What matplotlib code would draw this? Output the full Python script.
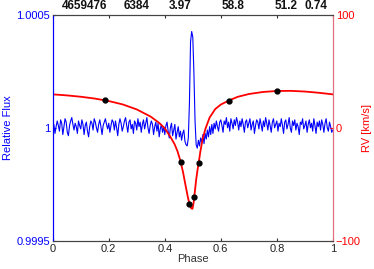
import numpy as np
import matplotlib
matplotlib.use("Agg")
import matplotlib.pyplot as plt

plt.rcParams['font.family'] = ['Liberation Sans', 'DejaVu Sans']

# Relative flux: deviations in ppm, phase grid step 0.004 from 0 to 1
flux_ppm = [
    -10, 15, -25, 5, 30, 10, -15, 35, 20, -30, 5, 40, 25, -20, -35, 10, 30, 45, 15, -10, 20, 5, -25, 30, 10,
    -5, 35, 15, -30, 10, 25, -15, -40, 5, 30, 20, -10, 40, 25, 0, -20, 15, 35, 5, -30, 10, 25, 40, 15, -5,
    20, -20, 10, 35, 25, -10, 30, 0, -35, 15, 40, 20, -15, 5, 30, 45, 10, -20, 25, 35, -5, 15, -25, 30, 20,
    -10, 40, 5, 25, -20, 15, 35, -5, 20, 45, 0, -25, 10, 30, 15, -30, 5, 25, -15, 20, -40, -5, 15, -20, 5,
    -30, 10, 25, -15, -45, 0, 20, -35, -10, 15, -50, -20, 5, -40, -15, -55, -25, -10, -60, -75, -80, -45, 110, 380, 425,
    400, 240, 30, -75, -90, -55, -80, -45, -65, -30, -70, -25, -50, -10, -40, 5, -30, 15, -25, 20, -5, 30, 5, -15, 25,
    35, 10, -20, 30, 15, 45, 0, 25, -15, 40, 20, -5, 35, 10, 45, 25, -10, 30, 5, 40, 15, -20, 25, 35, 0,
    20, 40, -10, 15, 30, -25, 10, 35, 25, -5, 40, 15, -15, 30, 5, 45, 20, -10, 35, 10, -20, 25, 40, 0, 15,
    30, -15, 20, 5, 40, 10, -25, 25, 35, -5, 15, 45, 0, -20, 30, 10, 35, -10, 20, 5, -30, 25, 15, 40, -5,
    10, 30, -20, 15, 35, 0, 20, -15, 40, 10, -25, 25, 5, 30, -10, 35, 15, -20, 20, 40, 0, -15, 25, 5, -20,
    -10,
]
flux_phase = np.linspace(0, 1, len(flux_ppm))
flux = 1 + np.array(flux_ppm) * 1e-6

# RV model curve
model_phase = [0.00, 0.05, 0.10, 0.15, 0.20, 0.25, 0.30, 0.35, 0.38, 0.40, 0.42, 0.435,
               0.445, 0.455, 0.465, 0.475, 0.483, 0.490, 0.495, 0.499, 0.503, 0.507,
               0.512, 0.517, 0.521, 0.527, 0.535, 0.545, 0.56, 0.58, 0.60, 0.63, 0.66,
               0.70, 0.75, 0.80, 0.85, 0.90, 0.95, 1.00]
model_rv = [29.5, 28.6, 27.4, 25.8, 23.6, 20.6, 16.2, 9.8, 4.3, -0.5, -8.0, -14.5,
            -20.5, -28.5, -39, -52, -62, -69, -71.3, -71.5, -66, -57,
            -46, -37, -31, -21, -10, -1, 9, 16.5, 20.5, 24.2, 27.3,
            29.8, 31.6, 32.5, 32.6, 32.0, 30.9, 29.5]

# RV measurements
rv_phase = [0.187, 0.457, 0.487, 0.505, 0.521, 0.629, 0.799]
rv_vals = [24.2, -30.2, -67.1, -60.9, -30.8, 23.9, 32.7]

top_labels = ['4659476', '6384', '3.97', '58.8', '51.2', '0.74']
top_label_pos = [0.115, 0.30, 0.455, 0.643, 0.832, 0.94]

fig = plt.figure(figsize=(3.74, 2.69), dpi=100)
ax = fig.add_axes([0.141, 0.104, 0.749, 0.842])
ax2 = ax.twinx()

ax.plot(flux_phase, flux, color='blue', lw=0.8)
ax.set_xlim(0, 1)
ax.set_ylim(0.9995, 1.0005)
ax.set_yticks([0.9995, 1.0, 1.0005])
ax.set_yticklabels(['0.9995', '1', '1.0005'])
ax.set_xticks([0, 0.2, 0.4, 0.6, 0.8, 1])
ax.set_xticklabels(['0', '0.2', '0.4', '0.6', '0.8', '1'])
ax.tick_params(axis='y', colors='blue', labelsize=8, direction='in', length=2, pad=2)
ax.tick_params(axis='x', colors='#333333', labelsize=8, direction='in', length=2,
               top=True, pad=2, labelcolor='#222222')
ax.set_xlabel('Phase', fontsize=8, color='#333333', labelpad=0)
ax.set_ylabel('Relative Flux', fontsize=8, color='blue', labelpad=2)

ax2.plot(model_phase, model_rv, color='red', lw=1.3)
ax2.plot(rv_phase, rv_vals, 'o', color='black', ms=3.5)
ax2.set_ylim(-100, 100)
ax2.set_yticks([-100, 0, 100])
ax2.tick_params(axis='y', colors='red', labelsize=8, direction='in', length=2, pad=2)
ax2.set_ylabel('RV [km/s]', fontsize=8, color='red', labelpad=1)

for a in (ax, ax2):
    a.spines['top'].set_color('#444444')
    a.spines['bottom'].set_color('#444444')
    a.spines['left'].set_color('blue')
    a.spines['right'].set_color('#e07080')
    for s in a.spines.values():
        s.set_linewidth(0.8)

for lab, xp in zip(top_labels, top_label_pos):
    ax.text(xp, 1.012, lab, transform=ax.transAxes, ha='center', va='bottom',
            fontsize=8.5, fontweight='bold', color='#111111')

fig.savefig('out.png', dpi=100)
